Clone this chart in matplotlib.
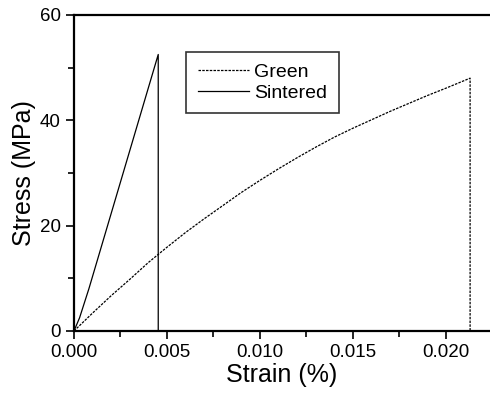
import numpy as np
import matplotlib
matplotlib.use('Agg')
import matplotlib.pyplot as plt
from matplotlib.ticker import MultipleLocator, FormatStrFormatter

plt.rcParams['font.family'] = ['Liberation Sans', 'DejaVu Sans']

# Green compact: stress-strain curve, then the break drop
green_strain = [0, 0.001, 0.002, 0.003, 0.004, 0.005, 0.006, 0.007, 0.008, 0.009,
                0.010, 0.011, 0.012, 0.013, 0.014, 0.015, 0.016, 0.017, 0.018,
                0.019, 0.020, 0.0213, 0.0213]
green_stress = [0, 3.4, 6.7, 9.8, 13.0, 15.9, 18.7, 21.3, 23.8, 26.3,
                28.6, 30.8, 32.9, 34.9, 36.8, 38.5, 40.1, 41.7, 43.2,
                44.7, 46.1, 48.0, 0]

# Sintered sample
sint_strain = [0, 0.0003, 0.0008, 0.00453, 0.00453]
sint_stress = [0, 2.5, 8.0, 52.5, 0]

fig = plt.figure(figsize=(4.9, 3.94), dpi=100)
ax = fig.add_axes([0.151, 0.16, 0.849, 0.802])

ax.plot(green_strain, green_stress, color='black', lw=0.9, ls=(0, (2, 1)), label='Green')
ax.plot(sint_strain, sint_stress, color='black', lw=0.9, label='Sintered')

ax.set_xlim(0, 0.02237)
ax.set_ylim(0, 60)
ax.xaxis.set_major_locator(MultipleLocator(0.005))
ax.xaxis.set_minor_locator(MultipleLocator(0.0025))
ax.yaxis.set_major_locator(MultipleLocator(20))
ax.yaxis.set_minor_locator(MultipleLocator(10))
ax.xaxis.set_major_formatter(FormatStrFormatter('%.3f'))

for s in ['left', 'bottom', 'top']:
    ax.spines[s].set_linewidth(1.6)
ax.spines['right'].set_visible(False)

ax.tick_params(which='both', direction='out', width=1.2, labelsize=13.5)
ax.tick_params(which='major', length=6)
ax.tick_params(which='minor', length=4)
ax.tick_params(top=False, right=False)

ax.set_xlabel('Strain (%)', fontsize=18, labelpad=1)
ax.set_ylabel('Stress (MPa)', fontsize=18, labelpad=3)

leg = ax.legend(loc='upper left', bbox_to_anchor=(0.270, 0.883), borderaxespad=0,
                fontsize=14, frameon=True, fancybox=False, handlelength=2.6,
                handletextpad=0.3, labelspacing=0.15, borderpad=0.6)
leg.get_frame().set_edgecolor('black')
leg.get_frame().set_linewidth(1.2)

plt.savefig('out.png', dpi=100)
